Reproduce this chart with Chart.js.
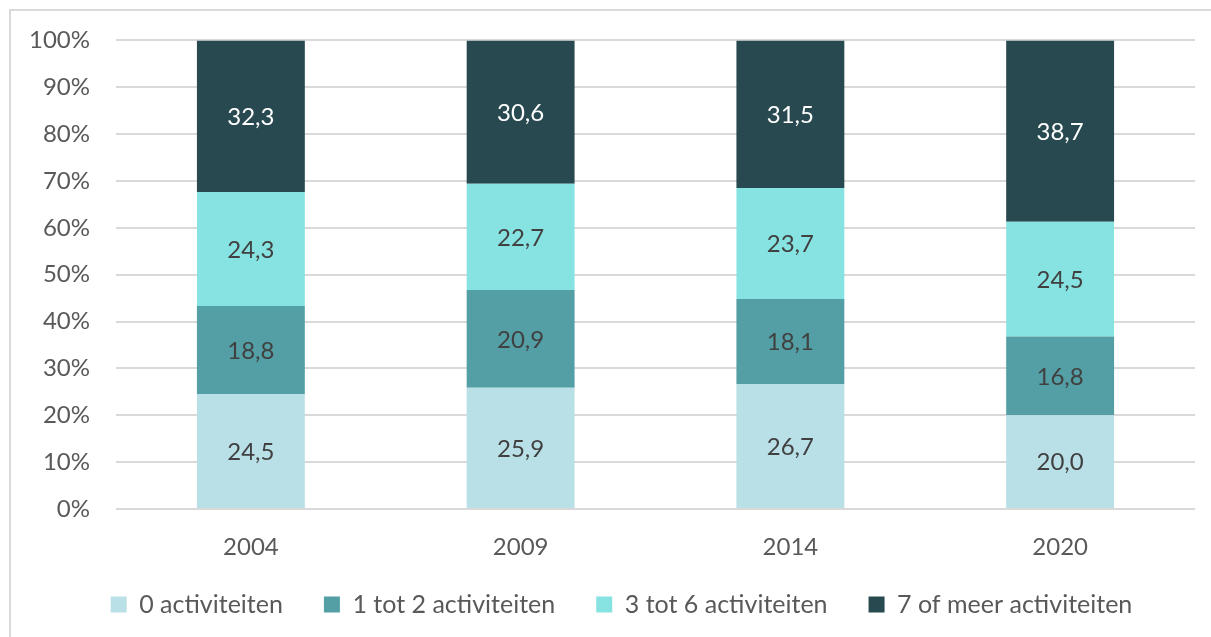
<!DOCTYPE html>
<html><head><meta charset="utf-8">
<script src="https://cdn.jsdelivr.net/npm/chart.js@4"></script>
<style>
html,body{margin:0;padding:0;background:#fff;overflow:hidden;width:1211px;height:637px}
#frame{position:absolute;left:9px;top:9px;width:1300px;height:700px;border-top:2px solid #d9d9d9;border-left:2px solid #d9d9d9;box-sizing:border-box}
#wrap{position:absolute;left:0;top:0;width:1211px;height:637px}
</style></head><body>
<div id="frame"></div>
<div id="wrap"><canvas id="c" width="1211" height="637"></canvas></div>
<script>
const categories = ['2004', '2009', '2014', '2020'];
const seriesNames = ['0 activiteiten', '1 tot 2 activiteiten', '3 tot 6 activiteiten', '7 of meer activiteiten'];
const zero = [24.5, 25.9, 26.7, 20.0];
const oneToTwo = [18.8, 20.9, 18.1, 16.8];
const threeToSix = [24.3, 22.7, 23.7, 24.5];
const sevenPlus = [32.3, 30.6, 31.5, 38.7];
const yTicks = [0, 10, 20, 30, 40, 50, 60, 70, 80, 90, 100];

const colors = ['#B9DFE7', '#539FA5', '#87E3E1', '#27494F'];
const labelColors = ['#404040', '#404040', '#404040', '#ffffff'];
const series = [zero, oneToTwo, threeToSix, sevenPlus];
const totals = categories.map((_, j) => series.reduce((s, a) => s + a[j], 0));
const FONT = 'Lato';

const datasets = series.map((arr, i) => ({
  label: seriesNames[i],
  data: arr.map((v, j) => v / totals[j] * 100),
  raw: arr,
  backgroundColor: colors[i],
  borderWidth: 0,
  categoryPercentage: 1,
  barPercentage: 0.4
}));

const valueLabels = {
  id: 'valueLabels',
  afterDatasetsDraw(chart) {
    const ctx = chart.ctx;
    ctx.save();
    ctx.font = '24px ' + FONT;
    ctx.textAlign = 'center';
    ctx.textBaseline = 'middle';
    chart.data.datasets.forEach((ds, i) => {
      const meta = chart.getDatasetMeta(i);
      meta.data.forEach((bar, j) => {
        const p = bar.getProps(['x', 'y', 'base'], true);
        ctx.fillStyle = labelColors[i];
        ctx.fillText(ds.raw[j].toFixed(1).replace('.', ','), p.x, (p.y + p.base) / 2 + 1);
      });
    });
    ctx.restore();
  }
};

new Chart(document.getElementById('c'), {
  type: 'bar',
  data: { labels: categories, datasets },
  options: {
    responsive: false,
    animation: false,
    layout: { padding: { left: 48, right: 16, top: 28, bottom: 10 } },
    plugins: {
      tooltip: { enabled: false },
      legend: {
        position: 'bottom',
        labels: {
          boxWidth: 16, boxHeight: 16, padding: 41,
          color: '#595959',
          font: { family: FONT, size: 25 }
        }
      }
    },
    scales: {
      x: {
        stacked: true,
        grid: { display: false, drawTicks: false },
        border: { display: false },
        ticks: { color: '#595959', font: { family: FONT, size: 24 }, padding: 24 },
        afterFit(s) { s.height = 42; s._computeLabelArea = () => undefined; }
      },
      y: {
        stacked: true,
        min: 0, max: 100,
        afterBuildTicks(s) { s.ticks = yTicks.map(v => ({ value: v })); },
        grid: { color: '#d9d9d9', lineWidth: 2, drawTicks: false },
        border: { display: false },
        ticks: { color: '#595959', font: { family: FONT, size: 24 }, padding: 26, callback: v => v + '%' },
        afterFit(s) { s.width = 68; s._computeLabelArea = () => undefined; }
      }
    }
  },
  plugins: [valueLabels]
});
</script>
</body></html>
